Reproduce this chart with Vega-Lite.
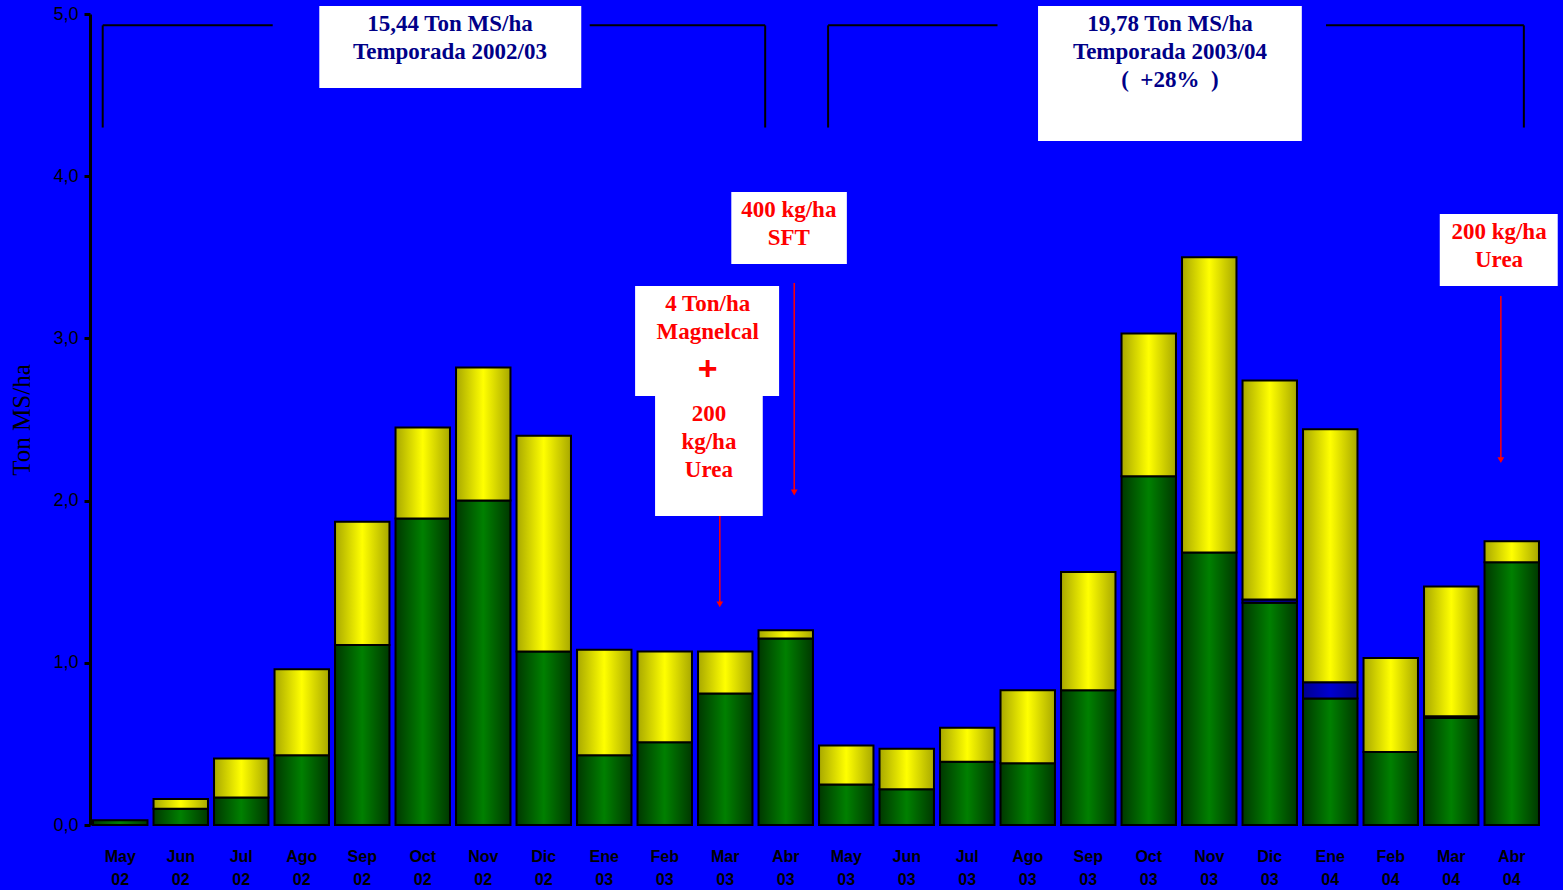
{
  "$schema": "https://vega.github.io/schema/vega-lite/v6.json",
  "width": 1452,
  "height": 811,
  "autosize": {"type": "none"},
  "padding": {"left": 90, "top": 14, "right": 21, "bottom": 65},
  "background": "#0000FF",
  "config": {"view": {"stroke": null}},
  "datasets": {
    "prod": [
      {"mes": "May 02", "serie": "verde", "v": 0.03},
      {"mes": "Jun 02", "serie": "verde", "v": 0.10},
      {"mes": "Jun 02", "serie": "amarillo", "v": 0.06},
      {"mes": "Jul 02", "serie": "verde", "v": 0.17},
      {"mes": "Jul 02", "serie": "amarillo", "v": 0.24},
      {"mes": "Ago 02", "serie": "verde", "v": 0.43},
      {"mes": "Ago 02", "serie": "amarillo", "v": 0.53},
      {"mes": "Sep 02", "serie": "verde", "v": 1.11},
      {"mes": "Sep 02", "serie": "amarillo", "v": 0.76},
      {"mes": "Oct 02", "serie": "verde", "v": 1.89},
      {"mes": "Oct 02", "serie": "amarillo", "v": 0.56},
      {"mes": "Nov 02", "serie": "verde", "v": 2.00},
      {"mes": "Nov 02", "serie": "amarillo", "v": 0.82},
      {"mes": "Dic 02", "serie": "verde", "v": 1.07},
      {"mes": "Dic 02", "serie": "amarillo", "v": 1.33},
      {"mes": "Ene 03", "serie": "verde", "v": 0.43},
      {"mes": "Ene 03", "serie": "amarillo", "v": 0.65},
      {"mes": "Feb 03", "serie": "verde", "v": 0.51},
      {"mes": "Feb 03", "serie": "amarillo", "v": 0.56},
      {"mes": "Mar 03", "serie": "verde", "v": 0.81},
      {"mes": "Mar 03", "serie": "amarillo", "v": 0.26},
      {"mes": "Abr 03", "serie": "verde", "v": 1.15},
      {"mes": "Abr 03", "serie": "amarillo", "v": 0.05},
      {"mes": "May 03", "serie": "verde", "v": 0.25},
      {"mes": "May 03", "serie": "amarillo", "v": 0.24},
      {"mes": "Jun 03", "serie": "verde", "v": 0.22},
      {"mes": "Jun 03", "serie": "amarillo", "v": 0.25},
      {"mes": "Jul 03", "serie": "verde", "v": 0.39},
      {"mes": "Jul 03", "serie": "amarillo", "v": 0.21},
      {"mes": "Ago 03", "serie": "verde", "v": 0.38},
      {"mes": "Ago 03", "serie": "amarillo", "v": 0.45},
      {"mes": "Sep 03", "serie": "verde", "v": 0.83},
      {"mes": "Sep 03", "serie": "amarillo", "v": 0.73},
      {"mes": "Oct 03", "serie": "verde", "v": 2.15},
      {"mes": "Oct 03", "serie": "amarillo", "v": 0.88},
      {"mes": "Nov 03", "serie": "verde", "v": 1.68},
      {"mes": "Nov 03", "serie": "amarillo", "v": 1.82},
      {"mes": "Dic 03", "serie": "verde", "v": 1.37},
      {"mes": "Dic 03", "serie": "hueco", "v": 0.02},
      {"mes": "Dic 03", "serie": "amarillo", "v": 1.35},
      {"mes": "Ene 04", "serie": "verde", "v": 0.78},
      {"mes": "Ene 04", "serie": "hueco", "v": 0.10},
      {"mes": "Ene 04", "serie": "amarillo", "v": 1.56},
      {"mes": "Feb 04", "serie": "verde", "v": 0.45},
      {"mes": "Feb 04", "serie": "amarillo", "v": 0.58},
      {"mes": "Mar 04", "serie": "verde", "v": 0.66},
      {"mes": "Mar 04", "serie": "hueco", "v": 0.01},
      {"mes": "Mar 04", "serie": "amarillo", "v": 0.80},
      {"mes": "Abr 04", "serie": "verde", "v": 1.62},
      {"mes": "Abr 04", "serie": "amarillo", "v": 0.13}
    ],
    "boxes": [
      {"x": 3.79, "x2": 8.12, "y": 5.049, "y2": 4.544},
      {"x": 15.67, "x2": 20.03, "y": 5.049, "y2": 4.217},
      {"x": 10.60, "x2": 12.51, "y": 3.903, "y2": 3.459},
      {"x": 9.01, "x2": 11.39, "y": 3.323, "y2": 2.645},
      {"x": 9.34, "x2": 11.12, "y": 2.650, "y2": 1.905},
      {"x": 22.31, "x2": 24.26, "y": 3.767, "y2": 3.323}
    ],
    "brackets": [
      {"x": 0.21, "x2": 3.02, "y": 4.93, "y2": 4.93},
      {"x": 8.26, "x2": 11.16, "y": 4.93, "y2": 4.93},
      {"x": 0.21, "x2": 0.21, "y": 4.93, "y2": 4.30},
      {"x": 11.16, "x2": 11.16, "y": 4.93, "y2": 4.30},
      {"x": 12.2, "x2": 15.0, "y": 4.93, "y2": 4.93},
      {"x": 20.43, "x2": 23.7, "y": 4.93, "y2": 4.93},
      {"x": 12.2, "x2": 12.2, "y": 4.93, "y2": 4.30},
      {"x": 23.7, "x2": 23.7, "y": 4.93, "y2": 4.30}
    ],
    "arrows": [
      {"x": 11.64, "y": 3.342, "y2": 2.05},
      {"x": 10.41, "y": 1.905, "y2": 1.36},
      {"x": 23.32, "y": 3.261, "y2": 2.25}
    ],
    "blueTexts": [
      {"x": 5.95, "y": 4.938, "t": "15,44 Ton MS/ha"},
      {"x": 5.95, "y": 4.766, "t": "Temporada 2002/03"},
      {"x": 17.85, "y": 4.938, "t": "19,78 Ton MS/ha"},
      {"x": 17.85, "y": 4.766, "t": "Temporada 2003/04"},
      {"x": 17.85, "y": 4.593, "t": "(\u00a0\u00a0+28%\u00a0\u00a0)"}
    ],
    "redTexts": [
      {"x": 11.55, "y": 3.792, "t": "400 kg/ha"},
      {"x": 11.55, "y": 3.619, "t": "SFT"},
      {"x": 10.21, "y": 3.212, "t": "4 Ton/ha"},
      {"x": 10.21, "y": 3.040, "t": "Magnelcal"},
      {"x": 10.23, "y": 2.534, "t": "200"},
      {"x": 10.23, "y": 2.361, "t": "kg/ha"},
      {"x": 10.23, "y": 2.189, "t": "Urea"},
      {"x": 23.29, "y": 3.656, "t": "200 kg/ha"},
      {"x": 23.29, "y": 3.483, "t": "Urea"}
    ],
    "plus": [
      {"x": 10.21, "y": 2.805, "t": "+"}
    ]
  },
  "layer": [
    {
      "data": {"name": "prod"},
      "transform": [
        {"stack": "v", "groupby": ["mes"], "sort": [{"field": "serie", "order": "descending"}], "as": ["y0", "y1"]}
      ],
      "encoding": {
        "x": {
          "field": "mes", "type": "nominal", "sort": null,
          "scale": {
            "domain": ["May 02","Jun 02","Jul 02","Ago 02","Sep 02","Oct 02","Nov 02","Dic 02","Ene 03","Feb 03","Mar 03","Abr 03","May 03","Jun 03","Jul 03","Ago 03","Sep 03","Oct 03","Nov 03","Dic 03","Ene 04","Feb 04","Mar 04","Abr 04"],
            "paddingInner": 0.1, "paddingOuter": 0.05
          },
          "axis": {
            "title": null, "labelAngle": 0, "ticks": false, "domain": false,
            "labelExpr": "split(datum.label, ' ')",
            "labelFont": "Liberation Sans", "labelFontWeight": "bold", "labelFontSize": 16,
            "labelColor": "#000000", "labelPadding": 23, "labelLineHeight": 23, "labelBaseline": "top"
          }
        },
        "y": {
          "field": "y0", "type": "quantitative",
          "scale": {"domain": [0, 5], "nice": false, "zero": false},
          "axis": {
            "title": "Ton MS/ha", "values": [0, 1, 2, 3, 4, 5], "grid": false,
            "labelExpr": "replace(format(datum.value, '.1f'), '.', ',')",
            "labelFont": "Liberation Sans", "labelFontSize": 18, "labelColor": "#000000",
            "labelPadding": 6,
            "titleFont": "Liberation Serif", "titleFontSize": 25, "titleFontWeight": "normal",
            "titleColor": "#000000", "titlePadding": 18,
            "domainColor": "#000000", "domainWidth": 3,
            "tickColor": "#000000", "tickWidth": 3, "tickSize": 6
          }
        },
        "y2": {"field": "y1"}
      },
      "layer": [
        {
          "transform": [{"filter": "datum.serie === 'verde'"}],
          "mark": {
            "type": "bar", "stroke": "#000000", "strokeWidth": 2,
            "fill": {"gradient": "linear", "x1": 0, "y1": 0, "x2": 1, "y2": 0,
              "stops": [{"offset": 0, "color": "#003800"}, {"offset": 0.5, "color": "#008000"}, {"offset": 1, "color": "#003800"}]}
          }
        },
        {
          "transform": [{"filter": "datum.serie === 'hueco'"}],
          "mark": {
            "type": "bar", "stroke": "#000000", "strokeWidth": 2,
            "fill": {"gradient": "linear", "x1": 0, "y1": 0, "x2": 1, "y2": 0,
              "stops": [{"offset": 0, "color": "#000090"}, {"offset": 0.5, "color": "#0000D0"}, {"offset": 1, "color": "#000090"}]}
          }
        },
        {
          "transform": [{"filter": "datum.serie === 'amarillo'"}],
          "mark": {
            "type": "bar", "stroke": "#000000", "strokeWidth": 2,
            "fill": {"gradient": "linear", "x1": 0, "y1": 0, "x2": 1, "y2": 0,
              "stops": [{"offset": 0, "color": "#A8A800"}, {"offset": 0.5, "color": "#FFFF00"}, {"offset": 1, "color": "#A8A800"}]}
          }
        }
      ]
    },
    {
      "data": {"name": "brackets"},
      "mark": {"type": "rule", "color": "#000000", "strokeWidth": 2},
      "encoding": {
        "x": {"field": "x", "type": "quantitative", "scale": {"domain": [0, 24], "nice": false, "zero": false}, "axis": null},
        "x2": {"field": "x2"},
        "y": {"field": "y", "type": "quantitative", "scale": {"domain": [0, 5], "nice": false, "zero": false}, "axis": null},
        "y2": {"field": "y2"}
      }
    },
    {
      "data": {"name": "boxes"},
      "mark": {"type": "rect", "fill": "#FFFFFF"},
      "encoding": {
        "x": {"field": "x", "type": "quantitative", "scale": {"domain": [0, 24], "nice": false, "zero": false}, "axis": null},
        "x2": {"field": "x2"},
        "y": {"field": "y", "type": "quantitative", "scale": {"domain": [0, 5], "nice": false, "zero": false}, "axis": null},
        "y2": {"field": "y2"}
      }
    },
    {
      "data": {"name": "arrows"},
      "mark": {"type": "rule", "color": "#FF0000", "strokeWidth": 1.5},
      "encoding": {
        "x": {"field": "x", "type": "quantitative", "scale": {"domain": [0, 24], "nice": false, "zero": false}, "axis": null},
        "y": {"field": "y", "type": "quantitative", "scale": {"domain": [0, 5], "nice": false, "zero": false}, "axis": null},
        "y2": {"field": "y2"}
      }
    },
    {
      "data": {"name": "arrows"},
      "mark": {"type": "point", "shape": "triangle-down", "filled": true, "color": "#FF0000", "size": 45, "opacity": 1},
      "encoding": {
        "x": {"field": "x", "type": "quantitative", "scale": {"domain": [0, 24], "nice": false, "zero": false}, "axis": null},
        "y": {"field": "y2", "type": "quantitative", "scale": {"domain": [0, 5], "nice": false, "zero": false}, "axis": null}
      }
    },
    {
      "data": {"name": "blueTexts"},
      "mark": {"type": "text", "font": "Liberation Serif", "fontWeight": "bold", "fontSize": 23, "color": "#000088", "baseline": "middle", "align": "center"},
      "encoding": {
        "x": {"field": "x", "type": "quantitative", "scale": {"domain": [0, 24], "nice": false, "zero": false}, "axis": null},
        "y": {"field": "y", "type": "quantitative", "scale": {"domain": [0, 5], "nice": false, "zero": false}, "axis": null},
        "text": {"field": "t"}
      }
    },
    {
      "data": {"name": "redTexts"},
      "mark": {"type": "text", "font": "Liberation Serif", "fontWeight": "bold", "fontSize": 23, "color": "#FF0000", "baseline": "middle", "align": "center"},
      "encoding": {
        "x": {"field": "x", "type": "quantitative", "scale": {"domain": [0, 24], "nice": false, "zero": false}, "axis": null},
        "y": {"field": "y", "type": "quantitative", "scale": {"domain": [0, 5], "nice": false, "zero": false}, "axis": null},
        "text": {"field": "t"}
      }
    },
    {
      "data": {"name": "plus"},
      "mark": {"type": "text", "font": "Liberation Sans", "fontWeight": "bold", "fontSize": 34, "color": "#FF0000", "baseline": "middle", "align": "center"},
      "encoding": {
        "x": {"field": "x", "type": "quantitative", "scale": {"domain": [0, 24], "nice": false, "zero": false}, "axis": null},
        "y": {"field": "y", "type": "quantitative", "scale": {"domain": [0, 5], "nice": false, "zero": false}, "axis": null},
        "text": {"field": "t"}
      }
    }
  ],
  "resolve": {"scale": {"x": "independent", "y": "independent"}}
}
